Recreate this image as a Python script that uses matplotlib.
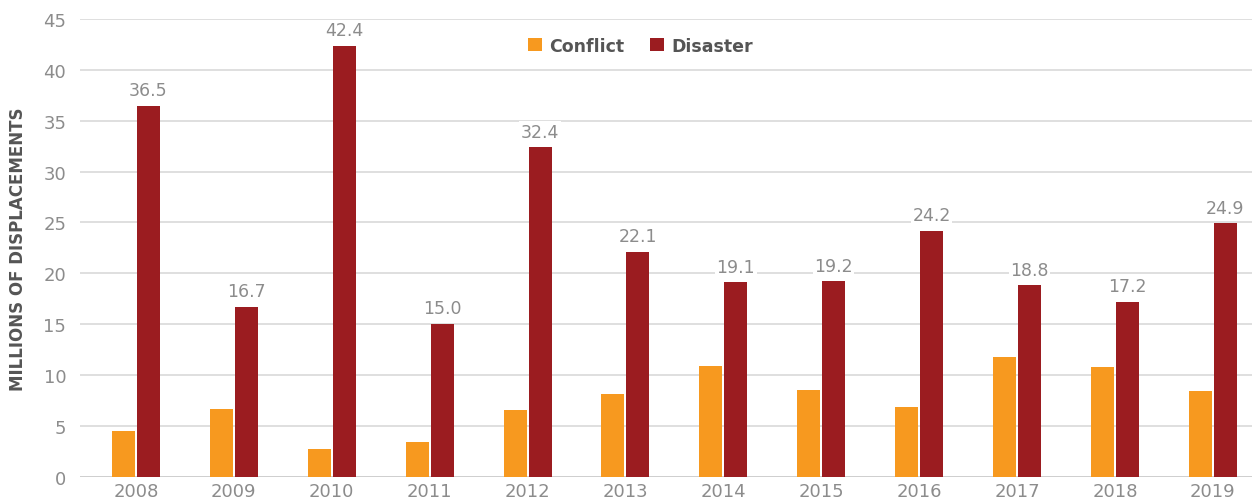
import matplotlib
matplotlib.use("Agg")
import matplotlib.pyplot as plt
import numpy as np

years = ["2008", "2009", "2010", "2011", "2012", "2013", "2014", "2015", "2016", "2017", "2018", "2019"]
conflict = [4.5, 6.6, 2.7, 3.4, 6.5, 8.1, 10.9, 8.5, 6.8, 11.8, 10.8, 8.4]
disaster = [36.5, 16.7, 42.4, 15.0, 32.4, 22.1, 19.1, 19.2, 24.2, 18.8, 17.2, 24.9]
yticks = [0, 5, 10, 15, 20, 25, 30, 35, 40, 45]

c_conf = "#F7991F"
c_dis = "#9B1C20"
gray = "#8C8C8C"

fig = plt.figure(figsize=(12.52, 5.02), dpi=100)
ax = fig.add_axes([0.064, 0.0488, 0.936, 0.911])

x = np.arange(len(years))
w = 0.235
gap = 0.01
ax.bar(x - w / 2 - gap, conflict, width=w, color=c_conf, label="Conflict", zorder=3)
ax.bar(x + w / 2 + gap, disaster, width=w, color=c_dis, label="Disaster", zorder=3)

for xi, v in zip(x, disaster):
    ax.text(xi + w / 2 + gap, v + 0.65, f"{v:.1f}", ha="center", va="bottom",
            fontsize=12.5, color=gray, zorder=4,
            bbox=dict(facecolor="white", edgecolor="none", pad=1.0))

ax.set_ylim(0, 45)
ax.set_xlim(-0.57, 11.4)
ax.set_yticks(yticks)
ax.set_xticks(x)
ax.set_xticklabels(years)
ax.tick_params(axis="both", length=0, labelsize=13, labelcolor=gray)
ax.tick_params(axis="y", pad=10)
ax.tick_params(axis="x", pad=4)
ax.grid(axis="y", color="#D9D9D9", linewidth=1.2, zorder=0)
for s in ax.spines.values():
    s.set_visible(False)
ax.axhline(0, color="#CCCCCC", linewidth=1.2, zorder=2)

ax.set_ylabel("MILLIONS OF DISPLACEMENTS", fontsize=12, fontweight="bold", color="#555555", labelpad=12)

leg = ax.legend(loc="upper center", bbox_to_anchor=(0.478, 0.996), ncol=2, frameon=False,
                handlelength=0.8, handleheight=0.8, handletextpad=0.4, columnspacing=1.5,
                prop={"weight": "bold", "size": 12.5})
for t in leg.get_texts():
    t.set_color("#555555")

fig.savefig("out.png", dpi=100)
